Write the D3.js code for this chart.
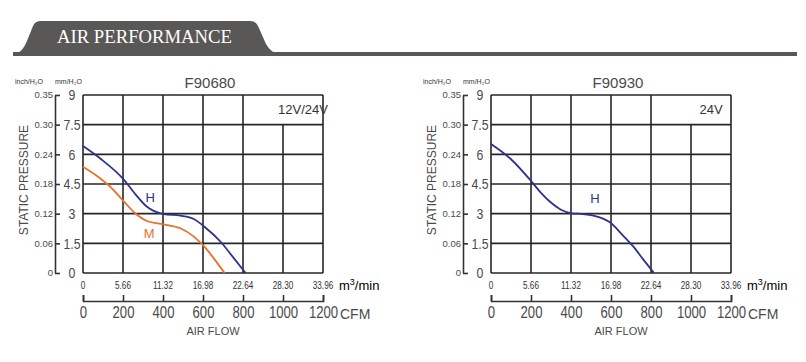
<!DOCTYPE html>
<html>
<head>
<meta charset="utf-8">
<script src="https://cdn.jsdelivr.net/npm/d3@7"></script>
<style>
    body { margin: 0; background: #fff; }
    svg { display: block; }
</style>
</head>
<body>
<script>
// DATA
var cfmTicks = [0, 200, 400, 600, 800, 1000, 1200];
var m3Labels = ["0", "5.66", "11.32", "16.98", "22.64", "28.30", "33.96"];
var mmTicks = [0, 1.5, 3, 4.5, 6, 7.5, 9];
var mmLabels = ["0", "1.5", "3", "4.5", "6", "7.5", "9"];
var inchLabels = ["0", "0.06", "0.12", "0.18", "0.24", "0.30", "0.35"];
var models = ["F90680", "F90930"];
var voltages = ["12V/24V", "24V"];

// [CFM, mmH2O]
var f90680H = [[0, 6.42], [85, 5.80], [206, 4.70], [252, 4.11], [320, 3.35], [403, 2.98], [487, 2.90], [554, 2.73], [607, 2.34], [688, 1.58], [755, 0.74], [813, 0]];
var f90680M = [[0, 5.37], [85, 4.79], [136, 4.36], [206, 3.60], [261, 3.02], [320, 2.63], [403, 2.46], [487, 2.26], [554, 1.84], [607, 1.33], [654, 0.74], [708, 0]];
var f90930H = [[0, 6.52], [100, 5.75], [203, 4.62], [250, 4.05], [295, 3.60], [350, 3.20], [403, 3.02], [460, 2.98], [512, 2.90], [560, 2.75], [598, 2.54], [650, 2.00], [712, 1.33], [760, 0.70], [815, 0]];

var FAN = {
    init: function () {
        var self = this;

        self.width = 806;
        self.height = 362;
        self.blue = "#2e3190";
        self.orange = "#e8722c";
        self.grid = "#262626";
        self.text = "#4a4a4a";
        self.sans = "'Liberation Sans', Arial, sans-serif";
        self.squeeze = "scale(0.82,1)";

        self.svg = d3.select("body").append("svg")
            .attr("width", self.width)
            .attr("height", self.height);

        self.drawHeader();

        self.drawChart({
            left: 83, title: models[0], volt: voltages[0],
            series: [
                {data: f90680H, color: self.blue, name: "H", at: [336, 3.84]},
                {data: f90680M, color: self.orange, name: "M", at: [331, 2.02]}
            ]
        });
        self.drawChart({
            left: 491, title: models[1], volt: voltages[1],
            series: [
                {data: f90930H, color: self.blue, name: "H", at: [520, 3.79]}
            ]
        });
    },
    drawHeader: function () {
        var self = this,
            g = self.svg.append("g");

        g.append("rect")
            .attr("x", 13).attr("y", 52)
            .attr("width", 784).attr("height", 4)
            .attr("fill", "#595856");

        g.append("path")
            .attr("d", "M13,55 C22,53 25,46 29,36 L33,26 Q35,21 41,21 L250,21 Q256,21 258,26 L266,44 Q271,53 280,55 Z")
            .attr("fill", "#595856");

        g.append("text")
            .attr("x", 57).attr("y", 43)
            .attr("fill", "#fff")
            .attr("font-family", "'Liberation Serif', 'DejaVu Serif', serif")
            .attr("font-size", 19)
            .attr("textLength", 175)
            .attr("lengthAdjust", "spacingAndGlyphs")
            .text("AIR PERFORMANCE");
    },
    drawChart: function (opt) {
        var self = this,
            top = 95,
            bottom = 273,
            plotW = 240,
            x, y, g, grid, line, axisX, cfmAxis, mmAxis;

        x = d3.scaleLinear().domain([0, 1200]).range([opt.left, opt.left + plotW]);
        y = d3.scaleLinear().domain([0, 9]).range([bottom, top]);

        g = self.svg.append("g");

        // grid
        grid = g.append("g")
            .attr("stroke", self.grid)
            .attr("stroke-width", 1.6)
            .attr("fill", "none");

        grid.selectAll(".h").data(mmTicks).enter().append("line")
            .attr("x1", x(0)).attr("x2", x(1200))
            .attr("y1", function (d) { return y(d); })
            .attr("y2", function (d) { return y(d); });

        grid.selectAll(".v").data(cfmTicks).enter().append("line")
            .attr("x1", function (d) { return x(d); })
            .attr("x2", function (d) { return x(d); })
            .attr("y1", function (d) { return d === 1000 ? y(7.5) : y(9); })
            .attr("y2", y(0));

        // curves
        line = d3.line()
            .x(function (d) { return x(d[0]); })
            .y(function (d) { return y(d[1]); })
            .curve(d3.curveMonotoneX);

        opt.series.forEach(function (s) {
            g.append("path")
                .datum(s.data)
                .attr("d", line)
                .attr("fill", "none")
                .attr("stroke", s.color)
                .attr("stroke-width", 1.8);

            g.append("text")
                .attr("x", x(s.at[0])).attr("y", y(s.at[1]))
                .attr("dy", "0.35em")
                .attr("text-anchor", "middle")
                .attr("fill", s.color)
                .attr("font-family", self.sans)
                .attr("font-size", 13)
                .text(s.name);
        });

        // title + voltage
        g.append("text")
            .attr("x", x(600) + 7).attr("y", 88)
            .attr("text-anchor", "middle")
            .attr("fill", self.text)
            .attr("font-family", self.sans)
            .attr("font-size", 15)
            .text(opt.title);

        g.append("text")
            .attr("x", x(1100)).attr("y", (y(9) + y(7.5)) / 2)
            .attr("dy", "0.35em")
            .attr("text-anchor", "middle")
            .attr("fill", "#333")
            .attr("font-family", self.sans)
            .attr("font-size", 13)
            .text(opt.volt);

        // pressure axis
        axisX = opt.left - 28;
        mmAxis = g.append("g")
            .attr("transform", "translate(" + axisX + ",0)")
            .call(d3.axisRight(y)
                .tickValues(mmTicks)
                .tickFormat(function (d, i) { return mmLabels[i]; })
                .tickSize(5)
                .tickSizeOuter(0));

        mmAxis.select(".domain").attr("stroke", "#333").attr("stroke-width", 1.6);
        mmAxis.selectAll(".tick line").attr("stroke", "#333").attr("stroke-width", 1.6);
        mmAxis.selectAll(".tick text")
            .attr("x", 0)
            .attr("transform", "translate(17,0) " + self.squeeze)
            .attr("text-anchor", "middle")
            .attr("fill", self.text)
            .attr("font-family", self.sans)
            .attr("font-size", 15);

        g.selectAll(".inch").data(inchLabels).enter().append("text")
            .attr("x", axisX - 2)
            .attr("y", function (d, i) { return y(mmTicks[i]); })
            .attr("dy", "0.35em")
            .attr("text-anchor", "end")
            .attr("fill", self.text)
            .attr("font-family", self.sans)
            .attr("font-size", 9.5)
            .text(function (d) { return d; });

        g.append("text")
            .attr("x", axisX - 40).attr("y", 84)
            .attr("fill", "#333")
            .attr("font-family", self.sans)
            .attr("font-size", 7)
            .text("inch/H\u2082O");

        g.append("text")
            .attr("x", axisX).attr("y", 84)
            .attr("fill", "#333")
            .attr("font-family", self.sans)
            .attr("font-size", 7)
            .text("mm/H\u2082O");

        g.append("text")
            .attr("transform", "translate(" + (axisX - 31) + "," + ((top + bottom) / 2 - 4) + ") rotate(-90)")
            .attr("text-anchor", "middle")
            .attr("dy", "0.35em")
            .attr("fill", self.text)
            .attr("font-family", self.sans)
            .attr("font-size", 12)
            .text("STATIC PRESSURE");

        // m3/min labels
        g.selectAll(".m3").data(m3Labels).enter().append("text")
            .attr("transform", function (d, i) { return "translate(" + x(cfmTicks[i]) + ",289) " + self.squeeze; })
            .attr("text-anchor", "middle")
            .attr("fill", "#333")
            .attr("font-family", self.sans)
            .attr("font-size", 10)
            .text(function (d) { return d; });

        g.append("text")
            .attr("x", x(1200) + 16).attr("y", 290)
            .attr("fill", "#000")
            .attr("font-family", self.sans)
            .attr("font-size", 13)
            .html("m<tspan dy='-5' font-size='9'>3</tspan><tspan dy='5'>/min</tspan>");

        // CFM axis
        cfmAxis = g.append("g")
            .attr("transform", "translate(0,301)")
            .call(d3.axisBottom(x)
                .tickValues(cfmTicks)
                .tickFormat(d3.format("d"))
                .tickSizeInner(-6)
                .tickSizeOuter(-6)
                .tickPadding(6));

        cfmAxis.select(".domain").attr("stroke", "#333").attr("stroke-width", 1.6);
        cfmAxis.selectAll(".tick line").attr("stroke", "#333").attr("stroke-width", 1.6);
        cfmAxis.selectAll(".tick text")
            .attr("transform", self.squeeze)
            .attr("fill", self.text)
            .attr("font-family", self.sans)
            .attr("font-size", 16);

        g.append("text")
            .attr("x", x(1200) + 17).attr("y", 319)
            .attr("fill", self.text)
            .attr("font-family", self.sans)
            .attr("font-size", 14)
            .text("CFM");

        g.append("text")
            .attr("x", x(600) + 10).attr("y", 335)
            .attr("text-anchor", "middle")
            .attr("fill", self.text)
            .attr("font-family", self.sans)
            .attr("font-size", 11)
            .text("AIR FLOW");
    }
};

FAN.init();
</script>
</body>
</html>
